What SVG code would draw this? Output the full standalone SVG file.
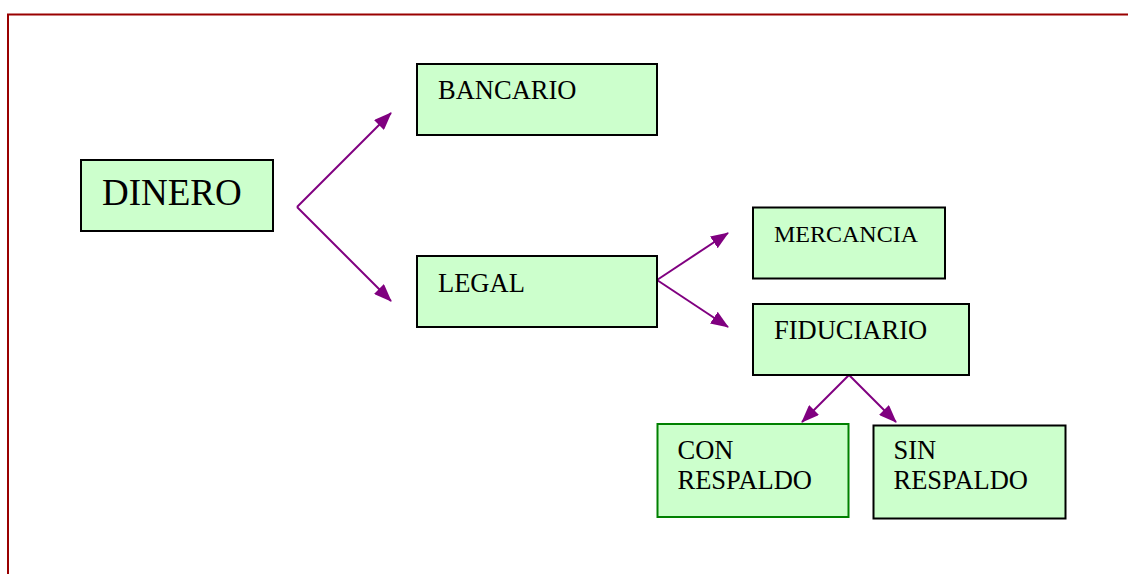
<svg xmlns="http://www.w3.org/2000/svg" width="1128" height="574" viewBox="0 0 1128 574">
  <style>
    .box { fill: #ccffcc; stroke: #000000; stroke-width: 2; }
    .box-green { fill: #ccffcc; stroke: #008000; stroke-width: 2; }
    .lbl { font-family: "Liberation Serif", "Times New Roman", serif; fill: #000000; font-size: 26.5px; }
    .conn { stroke: #800080; stroke-width: 2; fill: none; marker-end: url(#arrow); }
  </style>
  <defs>
    <marker id="arrow" markerUnits="userSpaceOnUse" markerWidth="18" markerHeight="14" refX="17" refY="7" orient="auto">
      <path d="M0,0 L18,7 L0,14 z" fill="#800080"/>
    </marker>
  </defs>
  <rect x="0" y="0" width="1128" height="574" fill="#ffffff"/>
  <path d="M1128,14.5 L8,14.5 L8,574" fill="none" stroke="#990000" stroke-width="2"/>

  <g id="connectors">
    <line class="conn" x1="297" y1="207" x2="391" y2="113"/>
    <line class="conn" x1="297" y1="207" x2="391" y2="301"/>
    <line class="conn" x1="657" y1="280" x2="728" y2="233"/>
    <line class="conn" x1="657" y1="280" x2="728" y2="327"/>
    <line class="conn" x1="849" y1="375" x2="802" y2="422"/>
    <line class="conn" x1="849" y1="375" x2="896" y2="422"/>
  </g>

  <g id="dinero">
    <rect class="box" x="81" y="160" width="192" height="71"/>
    <text class="lbl" x="102" y="205" style="font-size:37px">DINERO</text>
  </g>
  <g id="bancario">
    <rect class="box" x="417" y="64" width="240" height="71"/>
    <text class="lbl" x="438" y="98.5">BANCARIO</text>
  </g>
  <g id="legal">
    <rect class="box" x="417" y="256" width="240" height="71"/>
    <text class="lbl" x="438" y="291.5">LEGAL</text>
  </g>
  <g id="mercancia">
    <rect class="box" x="753" y="207.5" width="192" height="71"/>
    <text class="lbl" x="774" y="241.5" style="font-size:24px">MERCANCIA</text>
  </g>
  <g id="fiduciario">
    <rect class="box" x="753" y="304" width="216" height="71"/>
    <text class="lbl" x="774" y="338.5">FIDUCIARIO</text>
  </g>
  <g id="con-respaldo">
    <rect class="box-green" x="657.5" y="424" width="191" height="93"/>
    <text class="lbl" x="677.5" y="458.5">CON</text>
    <text class="lbl" x="677.5" y="488.5">RESPALDO</text>
  </g>
  <g id="sin-respaldo">
    <rect class="box" x="873.5" y="425.5" width="192" height="93"/>
    <text class="lbl" x="893.5" y="458.5">SIN</text>
    <text class="lbl" x="893.5" y="488.5">RESPALDO</text>
  </g>
</svg>
